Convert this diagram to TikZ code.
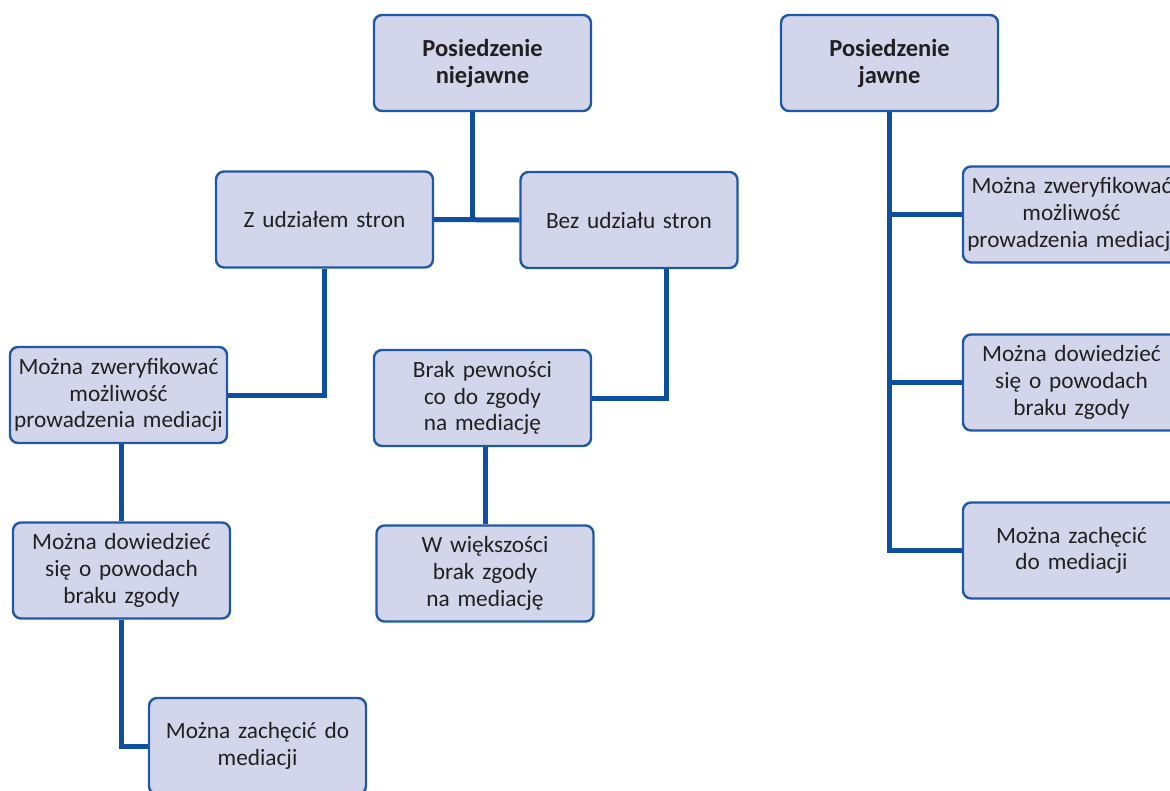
\documentclass[tikz,border=0pt]{standalone}
\usepackage{fontspec}
\setmainfont{Carlito}
\definecolor{boxfill}{HTML}{D3D5EB}
\definecolor{boxline}{HTML}{1F58A6}
\definecolor{conn}{HTML}{0E4FA0}
\definecolor{txt}{HTML}{231F20}
\tikzset{
  box/.style={draw=boxline, line width=2.4pt, fill=boxfill, rounded corners=8pt,
    minimum width=217pt, minimum height=96pt, text width=214pt, align=center,
    inner sep=0pt, text=txt, font=\fontsize{23.3}{26.7}\selectfont},
  hbox/.style={box, font=\fontsize{24.5}{27}\selectfont\bfseries},
  link/.style={draw=conn, line width=5pt}
}
\begin{document}
\begin{tikzpicture}[x=1pt,y=-1pt]
\useasboundingbox (0,0) rectangle (1170,790);
\clip (0,0) rectangle (1170,790);
\coordinate (jn) at (472,219.5);
\coordinate (bj) at (666,220);
% boxes
\node[hbox] (nj) at (482.5,63) {Posiedzenie\\niejawne};
\node[box] (zu) at (324.5,219.5) {Z udziałem stron};
\node[box] (bu) at (629,220) {Bez udziału stron};
\node[box] (mz1) at (118.5,395) {Można zweryfikować\\możliwość\\prowadzenia mediacji};
\node[box] (md1) at (121.5,570.5) {Można dowiedzieć\\się o powodach\\braku zgody};
\node[box] (mzach1) at (257.5,746) {Można zachęcić do\\mediacji};
\node[box] (bp) at (482.5,398) {Brak pewności\\co do zgody\\na mediację};
\node[box] (ww) at (485,573.5) {W większości\\brak zgody\\na mediację};
\node[hbox] (j) at (889.5,63) {Posiedzenie\\jawne};
\node[box] (r1) at (1071.5,214.5) {Można zweryfikować\\możliwość\\prowadzenia mediacji};
\node[box] (r2) at (1071.5,382.5) {Można dowiedzieć\\się o powodach\\braku zgody};
\node[box] (r3) at (1071.5,550.5) {Można zachęcić\\do mediacji};
% connectors
\path[link] (nj.south -| jn) -- (jn);
\path[link] (zu.east) -- (bu.west);
\path[link] (zu.south) |- (mz1.east);
\path[link] (bu.south -| bj) |- (bp.east);
\path[link] (md1.north |- mz1.south) -- (md1.north);
\path[link] (md1.south) |- (mzach1.west);
\path[link] (ww.north |- bp.south) -- (ww.north);
\path[link] (j.south) |- (r3.west);
\path[link] (j.south |- r1.west) -- (r1.west);
\path[link] (j.south |- r2.west) -- (r2.west);
\end{tikzpicture}
\end{document}
